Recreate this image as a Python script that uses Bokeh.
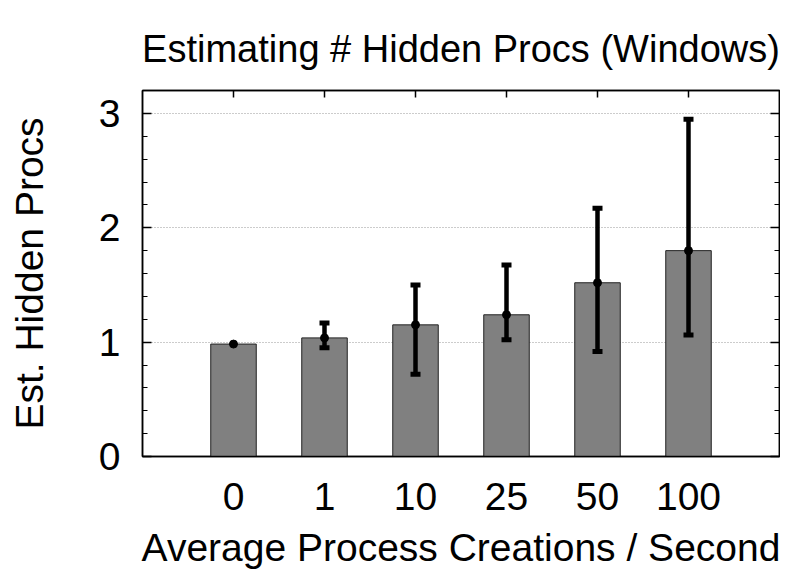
from bokeh.plotting import figure
from bokeh.models import (FactorRange, Range1d, FixedTicker, LinearAxis, CategoricalAxis,
                          ColumnDataSource, Whisker, TeeHead)
from bokeh.embed import file_html
from bokeh.resources import INLINE

# ---- data ----
categories = ["0", "1", "10", "25", "50", "100"]
est_hidden = [0.983, 1.037, 1.151, 1.239, 1.519, 1.800]
err_low = [float("nan"), 0.951, 0.720, 1.020, 0.917, 1.062]
err_high = [float("nan"), 1.168, 1.500, 1.675, 2.171, 2.949]
y_ticks = [0, 1, 2, 3]

FONT = "Liberation Sans"
FS = "39px"

src = ColumnDataSource(dict(x=categories, y=est_hidden, lo=err_low, hi=err_high))

p = figure(width=780, height=571, output_backend="svg", toolbar_location=None,
           x_range=FactorRange(*categories, range_padding=0.5, range_padding_units="absolute"),
           y_range=Range1d(0, 3.2),
           x_axis_location=None, y_axis_location=None,
           min_border_left=142, min_border_right=1, min_border_top=90, min_border_bottom=108,
           title="Estimating # Hidden Procs (Windows)")
p.outline_line_color = "black"
p.outline_line_width = 1.5
p.background_fill_color = "white"
p.border_fill_color = "white"

p.title.text_font = FONT
p.title.text_font_size = "38px"
p.title.text_font_style = "normal"
p.title.text_color = "black"
p.title.align = "center"
p.title.standoff = 42

# grid
p.xgrid.visible = False
p.ygrid.ticker = FixedTicker(ticks=[1, 2, 3])
p.ygrid.grid_line_color = "#999999"
p.ygrid.grid_line_dash = "1 2"
p.ygrid.grid_line_width = 1

# bars
p.vbar(x="x", top="y", width=0.5, source=src, fill_color="#808080",
       line_color="#222222", line_width=1)

# error bars
wh = Whisker(base="x", lower="lo", upper="hi", source=src, level="overlay",
             line_color="black", line_width=4.5,
             lower_head=TeeHead(size=10, line_width=5, line_color="black"),
             upper_head=TeeHead(size=10, line_width=5, line_color="black"))
p.add_layout(wh)
r = p.scatter(x="x", y="y", source=src, size=8, color="black")
r.level = "overlay"

yt = FixedTicker(ticks=y_ticks, minor_ticks=[i * 0.2 for i in range(16)])

def style_axis(ax):
    ax.axis_line_color = "black"
    ax.axis_line_width = 1.5
    ax.major_tick_line_color = "black"
    ax.minor_tick_line_color = "black"
    ax.major_tick_line_width = 1.5
    ax.minor_tick_line_width = 1.2
    ax.major_tick_out = 0
    ax.minor_tick_out = 0
    ax.major_label_text_font = FONT
    ax.major_label_text_font_size = FS
    ax.major_label_text_color = "black"
    ax.axis_label_text_font = FONT
    ax.axis_label_text_font_size = "39px"
    ax.axis_label_text_font_style = "normal"
    ax.axis_label_text_color = "black"

left = LinearAxis(ticker=yt, axis_label="Est. Hidden Procs")
style_axis(left)
left.major_tick_in = 9
left.minor_tick_in = 5
left.major_label_standoff = 22
left.axis_label_standoff = 45
p.add_layout(left, "left")

right = LinearAxis(ticker=yt)
style_axis(right)
right.major_tick_in = 9
right.minor_tick_in = 5
right.major_label_text_font_size = "0px"
right.major_label_standoff = 0
p.add_layout(right, "right")

bottom = CategoricalAxis(axis_label="Average Process Creations / Second")
style_axis(bottom)
bottom.major_tick_in = 0
bottom.major_label_standoff = 26
bottom.axis_label_standoff = 13
p.add_layout(bottom, "below")

top = CategoricalAxis()
style_axis(top)
top.major_tick_in = 7
top.major_label_text_font_size = "0px"
top.major_label_standoff = 0
p.add_layout(top, "above")

open("out.html", "w").write(file_html(p, INLINE))
